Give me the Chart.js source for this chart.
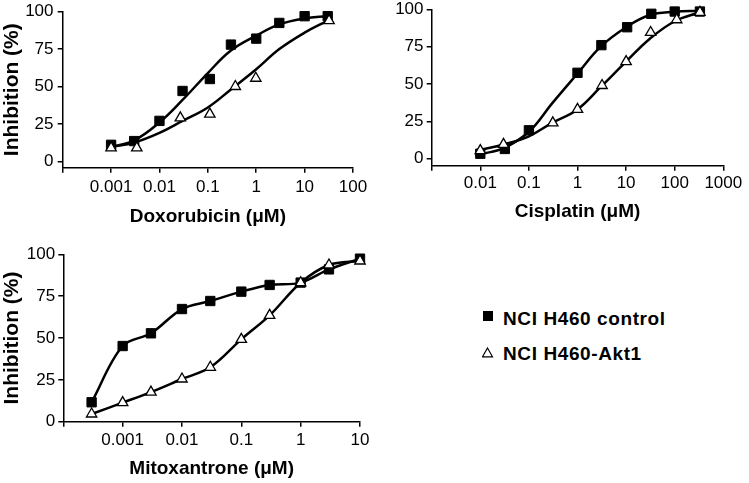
<!DOCTYPE html>
<html><head><meta charset="utf-8">
<script src="https://cdn.jsdelivr.net/npm/chart.js@4.4.0/dist/chart.umd.min.js"></script>
<style>
html,body{margin:0;padding:0;background:#fff;width:749px;height:483px;overflow:hidden;position:relative}
canvas{position:absolute}
.leg{position:absolute;font-family:"Liberation Sans",Arial,sans-serif;font-weight:bold;font-size:19px;line-height:19px;color:#000;white-space:nowrap;letter-spacing:0.6px}
</style></head><body>
<canvas id="c1" width="380" height="235" style="left:0;top:0"></canvas>
<canvas id="c2" width="400" height="235" style="left:380px;top:0"></canvas>
<canvas id="c3" width="380" height="243" style="left:0;top:240px"></canvas>
<div style="position:absolute;left:483px;top:311px;width:10px;height:10px;background:#000"></div>
<div class="leg" style="left:503px;top:309px">NCI H460 control</div>
<svg style="position:absolute;left:482px;top:347px" width="12" height="11"><polygon points="5.5,1 10.5,9.8 0.5,9.8" fill="#fff" stroke="#000" stroke-width="1.2"/></svg>
<div class="leg" style="left:503px;top:344px">NCI H460-Akt1</div>
<script>
// ---- shared y axis ----
const yTicks = [0, 25, 50, 75, 100];
const yTickLabels = ['0', '25', '50', '75', '100'];
const yTitle = 'Inhibition (%)';

// ---- Doxorubicin ----
const doxoTicks = [0.0001, 0.001, 0.01, 0.1, 1, 10, 100];
const doxoTickLabels = ['', '0.001', '0.01', '0.1', '1', '10', '100'];
const doxoCtrlConc = [0.001, 0.003, 0.01, 0.03, 0.11, 0.3, 1, 3, 10, 30];
const doxoCtrlInh = [11, 13.5, 27, 47, 55, 78, 82, 92.5, 97, 97];
const doxoAktConc = [0.001, 0.0034, 0.027, 0.11, 0.37, 0.98, 32];
const doxoAktInh = [9, 9, 29, 31.5, 50, 55.5, 94];
const doxoFitConc = [0.001, 0.003, 0.01, 0.03, 0.1, 0.3, 1, 3, 10, 30];
const doxoCtrlFit = [9.5, 14, 26, 41, 59, 74, 84, 91.5, 95.5, 97];
const doxoAktFit = [9.5, 12.5, 19, 27, 36, 48, 61.5, 75, 86, 94];

// ---- Cisplatin ----
const cisTicks = [0.001, 0.01, 0.1, 1, 10, 100, 1000];
const cisTickLabels = ['', '0.01', '0.1', '1', '10', '100', '1000'];
const cisCtrlConc = [0.01, 0.032, 0.1, 1, 3.1, 10.5, 33, 100, 330];
const cisCtrlInh = [3.3, 6.5, 19, 57.5, 76, 88, 97, 98.5, 98.5];
const cisAktConc = [0.01, 0.03, 0.31, 1, 3.2, 10, 32, 110, 330];
const cisAktInh = [5.4, 9.6, 24, 33, 49, 65, 84.5, 93, 98];
const cisFitConc = [0.01, 0.03, 0.1, 0.3, 1, 3, 10, 30, 100, 330];
const cisCtrlFit = [3, 7, 18, 37, 57, 75, 88, 96, 98.3, 99];
const cisAktFit = [6, 9.5, 15, 24, 33, 48, 65, 80, 92, 98];

// ---- Mitoxantrone ----
const mitoTicks = [0.0001, 0.001, 0.01, 0.1, 1, 10];
const mitoTickLabels = ['', '0.001', '0.01', '0.1', '1', '10'];
const mitoConc = [0.0003, 0.001, 0.003, 0.01, 0.03, 0.1, 0.3, 1, 3, 10];
const mitoCtrlInh = [11.6, 45.2, 52.8, 67.3, 72.1, 77.7, 81.7, 83.1, 91, 97.4];
const mitoAktInh = [4.6, 11.4, 17.7, 25.5, 32.5, 49.2, 63.5, 83, 93.6, 96];

const FONT = '"Liberation Sans", Arial, sans-serif';
const pts = (xs, ys) => xs.map((x, i) => ({x: x, y: ys[i]}));

function makePanel(id, c) {
  const axisGrid = {display: true, drawOnChartArea: false, drawTicks: true, tickLength: 5, color: '#000', lineWidth: 1.5};
  const axisBorder = {display: true, color: '#000', width: 1.5};
  new Chart(document.getElementById(id), {
    type: 'line',
    data: {datasets: [
      {data: pts(c.aktX, c.aktY), showLine: false, pointStyle: 'triangle', pointRadius: 6,
       pointBackgroundColor: '#fff', pointBorderColor: '#000', pointBorderWidth: 1.3, order: 0, clip: false},
      {data: pts(c.ctrlX, c.ctrlY), showLine: false, pointStyle: 'rect', pointRadius: 6.6,
       pointBackgroundColor: '#000', pointBorderColor: '#000', pointBorderWidth: 1, order: 1, clip: false},
      {data: pts(c.aktFitX, c.aktFitY), borderColor: '#000', borderWidth: 2.5, pointRadius: 0, fill: false,
       cubicInterpolationMode: 'default', tension: c.tension, order: 2, clip: false},
      {data: pts(c.ctrlFitX, c.ctrlFitY), borderColor: '#000', borderWidth: 2.5, pointRadius: 0, fill: false,
       cubicInterpolationMode: 'default', tension: c.tension, order: 3, clip: false}
    ]},
    options: {
      responsive: false, animation: false, devicePixelRatio: 1, events: [],
      layout: {padding: c.pad},
      plugins: {legend: {display: false}, tooltip: {enabled: false}},
      scales: {
        x: {
          type: 'logarithmic', min: c.xmin, max: c.xmax,
          afterBuildTicks: s => { s.ticks = c.xTicks.map(v => ({value: v})); },
          afterFit: s => { s.height = c.hx; s.paddingLeft = 0; s.paddingRight = 0; },
          grid: axisGrid, border: axisBorder,
          ticks: {autoSkip: false, maxRotation: 0, minRotation: 0, padding: c.xtp, color: '#000',
                  font: {family: FONT, size: 17}, callback: (v, i) => c.xLabels[i]},
          title: {display: true, text: c.xTitle, color: '#000',
                  font: {family: FONT, size: 19, weight: 'bold'}, padding: {top: 0, bottom: 0}}
        },
        y: {
          type: 'linear', min: c.ymin, max: 100,
          afterBuildTicks: s => { s.ticks = yTicks.map(v => ({value: v})); },
          afterFit: s => { s.width = c.wy; s.paddingTop = 0; s.paddingBottom = 0; },
          grid: axisGrid, border: axisBorder,
          ticks: {padding: c.ytp, color: '#000', font: {family: FONT, size: 17},
                  callback: (v, i) => yTickLabels[i]},
          title: {display: !!c.yTitle, text: c.yTitle || '', color: '#000',
                  font: {family: FONT, size: 21, weight: 'bold'}, padding: {top: 0, bottom: 0}}
        }
      }
    }
  });
}

makePanel('c1', {
  ctrlX: doxoCtrlConc, ctrlY: doxoCtrlInh, aktX: doxoAktConc, aktY: doxoAktInh,
  ctrlFitX: doxoFitConc, ctrlFitY: doxoCtrlFit, aktFitX: doxoFitConc, aktFitY: doxoAktFit,
  tension: 0.4,
  xmin: 0.0001, xmax: 100, xTicks: doxoTicks, xLabels: doxoTickLabels, xTitle: 'Doxorubicin (μM)',
  ymin: -4.3, yTitle: yTitle,
  pad: {left: 0, top: 11.7, right: 27, bottom: 6.9}, wy: 62.7, hx: 60.4, xtp: 4.4, ytp: 4.2
});
makePanel('c2', {
  ctrlX: cisCtrlConc, ctrlY: cisCtrlInh, aktX: cisAktConc, aktY: cisAktInh,
  ctrlFitX: cisFitConc, ctrlFitY: cisCtrlFit, aktFitX: cisFitConc, aktFitY: cisAktFit,
  tension: 0.4,
  xmin: 0.001, xmax: 1000, xTicks: cisTicks, xLabels: cisTickLabels, xTitle: 'Cisplatin (μM)',
  ymin: -4.7, yTitle: null,
  pad: {left: 0, top: 9.3, right: 56.7, bottom: 11.9}, wy: 51.7, hx: 57.4, xtp: 2, ytp: 3.2
});
makePanel('c3', {
  ctrlX: mitoConc, ctrlY: mitoCtrlInh, aktX: mitoConc, aktY: mitoAktInh,
  ctrlFitX: mitoConc, ctrlFitY: mitoCtrlInh, aktFitX: mitoConc, aktFitY: mitoAktInh,
  tension: 0.35,
  xmin: 0.0001, xmax: 10, xTicks: mitoTicks, xLabels: mitoTickLabels, xTitle: 'Mitoxantrone (μM)',
  ymin: 0, yTitle: yTitle,
  pad: {left: 0, top: 14.3, right: 20, bottom: 3.2}, wy: 63.3, hx: 58.1, xtp: 3.5, ytp: 3.2
});
</script>
</body></html>
